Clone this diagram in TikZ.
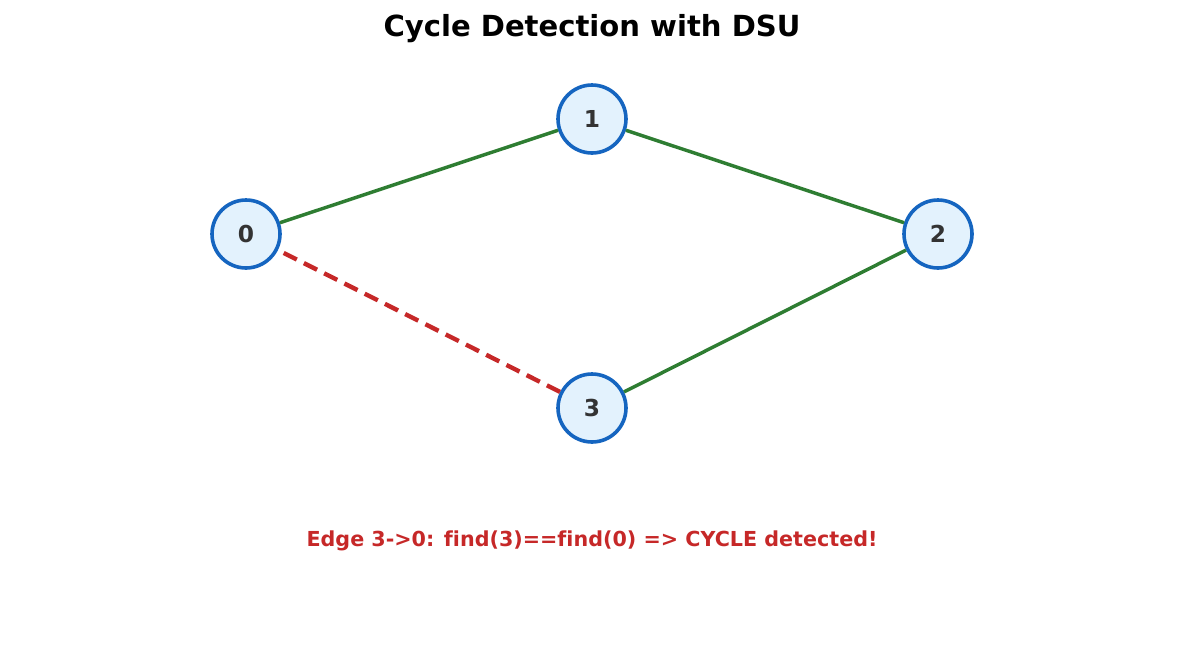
\documentclass[tikz,border=0pt]{standalone}
\usepackage{fontspec}
\setmainfont[Ligatures=NoCommon]{DejaVu Sans}
\definecolor{nodeblue}{HTML}{1565C0}
\definecolor{nodefill}{HTML}{E3F2FD}
\definecolor{egreen}{HTML}{2E7D32}
\definecolor{ered}{HTML}{C62828}
\definecolor{ntext}{HTML}{333333}
\begin{document}
\begin{tikzpicture}[x=0.75pt,y=-0.75pt,
  vert/.style={circle,draw=nodeblue,fill=nodefill,line width=2.7pt,minimum size=51pt,inner sep=0pt,font=\fontsize{17.5}{19}\selectfont\bfseries,text=ntext},
  tree/.style={egreen,line width=2.6pt},
  cyc/.style={ered,line width=3.3pt,dash pattern=on 11pt off 6pt}]
\useasboundingbox (0,0) rectangle (1185,654);
\node[font=\fontsize{21.8}{25}\selectfont\bfseries] (title) at (592,29) {Cycle Detection with DSU};
\node[vert] (n0) at (246,234) {0};
\node[vert] (n1) at (592,119) {1};
\node[vert] (n2) at (938,234) {2};
\node[vert] (n3) at (592,408) {3};
\draw[tree] (n0) -- (n1);
\draw[tree] (n1) -- (n2);
\draw[tree] (n2) -- (n3);
\draw[cyc] (n3) -- (n0);
\node[font=\fontsize{15.5}{18}\selectfont\bfseries,text=ered] (msg) at (592,541) {Edge 3->0: find(3)==find(0) => CYCLE detected!};
\end{tikzpicture}
\end{document}
